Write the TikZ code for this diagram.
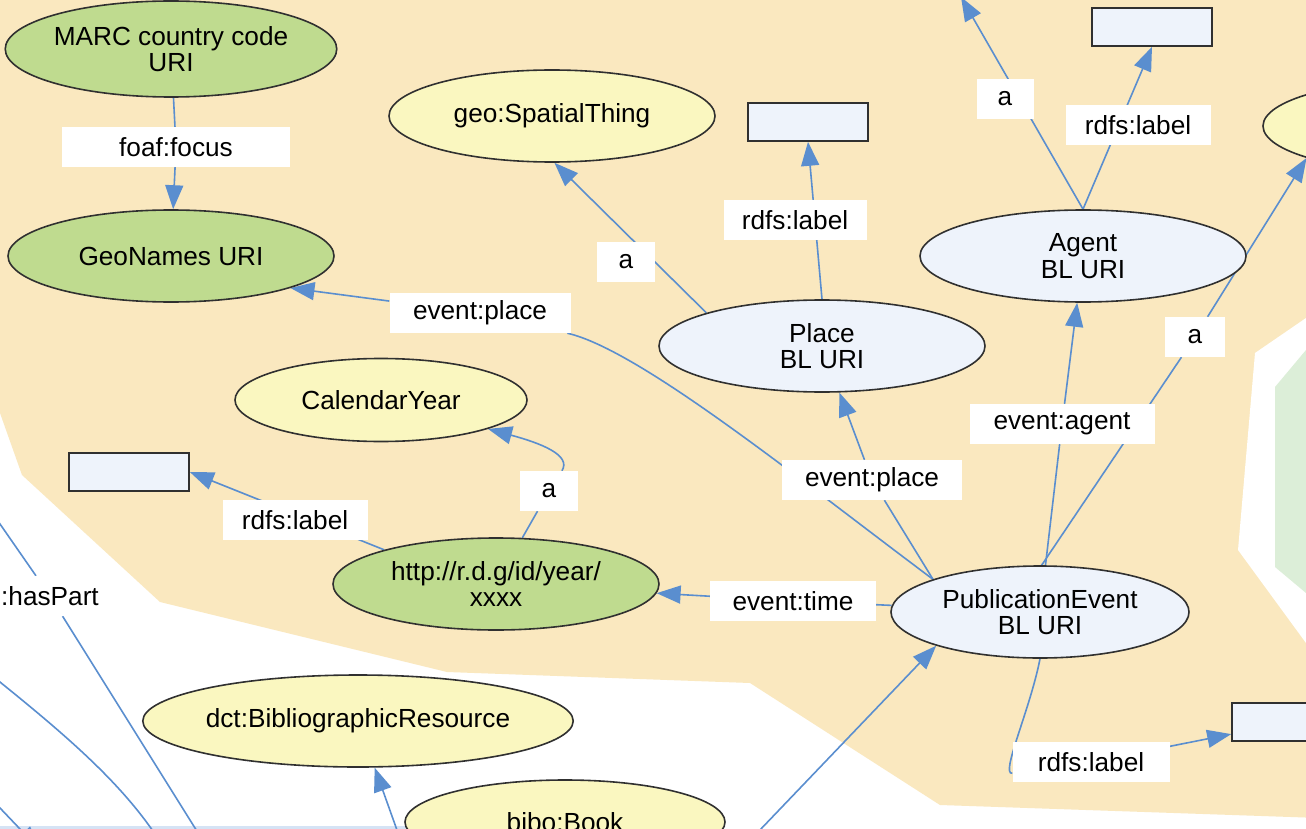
\documentclass[tikz,border=0pt]{standalone}
\usepackage{fontspec}
\setmainfont{Liberation Sans}
\usepackage{tikz}
\usetikzlibrary{positioning,shapes.geometric,arrows.meta}

\definecolor{tanbg}{HTML}{FAE8BF}
\definecolor{hexgreen}{HTML}{DCEED8}
\definecolor{urigreen}{HTML}{BFDB8F}
\definecolor{clsyellow}{HTML}{FAF7C0}
\definecolor{bluefill}{HTML}{EEF3FB}
\definecolor{relblue}{HTML}{5A8ECF}
\definecolor{outline}{HTML}{303030}
\definecolor{stripblue}{HTML}{D5E3F5}

\pgfdeclarelayer{bg}
\pgfdeclarelayer{edges}
\pgfsetlayers{bg,edges,main}

\tikzset{
	txt/.style={font=\fontsize{26.2}{26.5}\selectfont},
	res/.style={txt, ellipse, draw=outline, line width=1.6pt, inner sep=0pt, align=center, minimum width=326pt, minimum height=92pt},
	ext/.style={res, fill=urigreen},
	cls/.style={res, fill=clsyellow},
	bl/.style={res, fill=bluefill},
	lit/.style={rectangle, draw=outline, fill=bluefill, line width=1.6pt, minimum width=120pt, minimum height=38pt},
	lbl/.style={txt, fill=white, inner sep=0pt, minimum height=40pt},
	rel/.style={draw=relblue, line width=1.6pt, -{Triangle[length=24pt,width=18pt]}},
}

\begin{document}
\begin{tikzpicture}[x=1pt,y=-1pt]
			\useasboundingbox (0,0) rectangle (1306,829);

			\begin{pgfonlayer}{bg}
				\fill[white] (0,0) rectangle (1306,829);
				\fill[tanbg] (0,0) -- (1320,0) -- (1320,818) -- (940,805) -- (750,683) -- (447,672) -- (160,602) -- (22,475) -- (0,413) -- cycle;
				\fill[white] (1320,318) -- (1306,318) -- (1255,353) -- (1238,550) -- (1306,643) -- (1320,643) -- cycle;
				\fill[hexgreen] (1320,350) -- (1306,350) -- (1275,387) -- (1275,567) -- (1306,593) -- (1320,593) -- cycle;
				\fill[stripblue] (0,826) rectangle (545,829);
			\end{pgfonlayer}

			\clip (0,0) rectangle (1306,829);

			% resources
			\node[ext] (marc) at (171,49) [minimum height=96pt] {MARC country code\\URI};
			\node[ext] (geonames) at (171,256) {GeoNames URI};
			\node[cls] (spatial) at (552,116) {geo:SpatialThing};
			\node[lit] (placelbl) at (808,122) {};
			\node[bl] (place) at (822,346) {Place\\BL URI};
			\node[bl] (agent) at (1083,256) {Agent\\BL URI};
			\node[lit] (agentlbl) at (1152,27) {};
			\node[cls] (agentcls) at (1426,126) {};
			\node[cls, minimum width=292pt, minimum height=83pt] (calyear) at (381,400) {CalendarYear};
			\node[lit] (yearlbl) at (129,472) {};
			\node[ext] (year) at (496,584) {http://r.d.g/id/year/\\xxxx};
			\node[bl, minimum width=298pt] (pubevent) at (1040,612) {PublicationEvent\\BL URI};
			\node[lit] (publbl) at (1292,722) {};
			\node[cls, minimum width=424pt] (bibres) at (358,721) {dct:BibliographicResource};
			\node[cls, minimum width=320pt, minimum height=84pt] (book) at (565,822) {bibo:Book};

			\coordinate (agenttype) at (961,-3);
			\coordinate (toevent) at (693,900);
			\coordinate (tores) at (422,900);
			\coordinate (partsrc) at (215,860);
			\coordinate (partend) at (-25,488);
			\coordinate (partB1) at (-20,666);
			\coordinate (partB2) at (172,860);
			\coordinate (partC1) at (-20,787);
			\coordinate (partC2) at (40,850);

			% property labels
			\node[lbl, minimum width=228pt] (focus) at (176,147) {foaf:focus};
			\node[lbl, minimum width=181pt] (evplace1) at (480,313) {event:place};
			\node[lbl, minimum width=58pt] (aplace) at (626,262) {a};
			\node[lbl, minimum width=143pt] (rdfsplace) at (795,220) {rdfs:label};
			\node[lbl, minimum width=180pt] (evplace2) at (872,480) {event:place};
			\node[lbl, minimum width=57pt] (aagent) at (1005,99) {a};
			\node[lbl, minimum width=145pt] (rdfsagent) at (1138,125) {rdfs:label};
			\node[lbl, minimum width=185pt] (evagent) at (1062,424) {event:agent};
			\node[lbl, minimum width=60pt] (apub) at (1195,337) {a};
			\node[lbl, minimum width=58pt] (ayear) at (549,491) {a};
			\node[lbl, minimum width=145pt] (rdfsyear) at (295,520) {rdfs:label};
			\node[lbl, minimum width=166pt] (evtime) at (793,601) {event:time};
			\node[lbl, minimum width=157pt] (rdfspub) at (1091,762) {rdfs:label};
			\node[lbl, inner xsep=3pt, anchor=west] (haspart) at (-2,596) {:hasPart};

			\begin{pgfonlayer}{edges}
				\begin{scope}
				\clip (0,0) rectangle (1306,829);
				\draw[rel](marc) -- (focus) -- (geonames);
				\draw[rel](pubevent.163) .. controls (800,480) and (640,350) .. (evplace1) -- (geonames.-15);
				\draw[rel](place.164) -- (spatial.273);
				\draw[rel](place.north) -- (placelbl.south);
				\draw[rel](pubevent.163) -- (evplace2) -- (place);
				\draw[rel](pubevent) -- (evagent) -- (agent);
				\draw[rel](pubevent.88) -- (apub) -- (agentcls.195);
				\draw[rel](agent.north) -- (agenttype);
				\draw[rel](agent.north) -- (agentlbl.south);
				\draw[rel](year) -- (ayear) .. controls (572,455) and (540,443) .. (calyear);
				\draw[rel](year.163) -- (yearlbl.east);
				\draw[rel](pubevent) -- (evtime) -- (year);
				\draw[rel](pubevent.south) .. controls (1030,710) and (1000,775) .. (rdfspub) -- (publbl);
				\draw[rel](toevent) -- (pubevent.198);
				\draw[rel](tores) -- (bibres);
				\draw[rel](partsrc) -- (haspart) -- (partend);
				\draw[rel](partB1) .. controls (60,730) and (120,780) .. (partB2);
				\draw[rel](partC1) -- (partC2);
				\end{scope}
			\end{pgfonlayer}
\end{tikzpicture}
\end{document}
